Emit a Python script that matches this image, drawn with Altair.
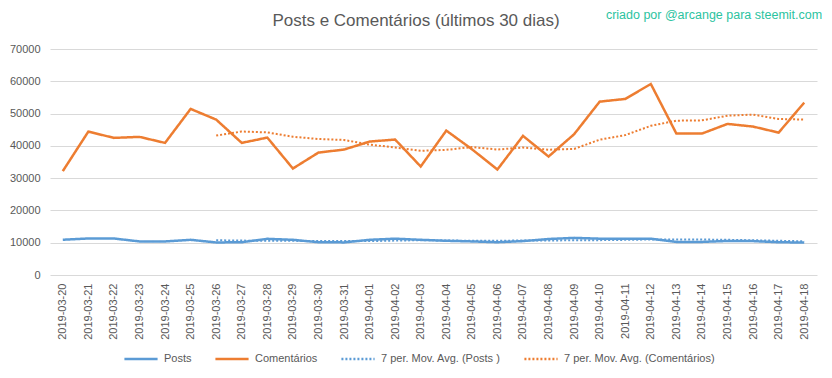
import altair as alt
import pandas as pd

dates = ["2019-03-20", "2019-03-21", "2019-03-22", "2019-03-23", "2019-03-24", "2019-03-25",
         "2019-03-26", "2019-03-27", "2019-03-28", "2019-03-29", "2019-03-30", "2019-03-31",
         "2019-04-01", "2019-04-02", "2019-04-03", "2019-04-04", "2019-04-05", "2019-04-06",
         "2019-04-07", "2019-04-08", "2019-04-09", "2019-04-10", "2019-04-11", "2019-04-12",
         "2019-04-13", "2019-04-14", "2019-04-15", "2019-04-16", "2019-04-17", "2019-04-18"]

posts = [10920, 11320, 11300, 10400, 10400, 10900, 10080, 10150, 11200, 10900,
         10150, 10100, 10900, 11250, 10900, 10600, 10400, 10150, 10500, 11150,
         11500, 11250, 11250, 11250, 10250, 10250, 10550, 10500, 10150, 10050]

comentarios = [32170, 44420, 42470, 42780, 40920, 51440, 48130, 40920, 42560, 32980,
               37920, 38850, 41330, 41950, 33600, 44730, 38970, 32670, 43090, 36690,
               43600, 53700, 54530, 59170, 43800, 43800, 46800, 45970, 44110, 53390]

series_names = ["Posts", "Comentários", "7 per. Mov. Avg. (Posts )", "7 per. Mov. Avg. (Comentários)"]
series_colors = ["#5B9BD5", "#ED7D31", "#5B9BD5", "#ED7D31"]
series_dash = [[1, 0], [1, 0], [2, 2], [2, 2]]
y_ticks = [0, 10000, 20000, 30000, 40000, 50000, 60000, 70000]

title_text = "Posts e Comentários  (últimos 30 dias)"
credit_text = "criado por @arcange para steemit.com"

rows = []
for d, p in zip(dates, posts):
    rows.append({"date": d, "series": "Posts", "value": p})
for d, c in zip(dates, comentarios):
    rows.append({"date": d, "series": "Comentários", "value": c})
df = pd.DataFrame(rows)

FONT = "Liberation Sans"
GREY = "#595959"

x_enc = alt.X("date:N", sort=dates, title=None,
              scale=alt.Scale(type="point", padding=0.5),
              axis=alt.Axis(labelAngle=270, labelFontSize=11, labelColor=GREY, ticks=False,
                            domain=False, labelPadding=8, labelFont=FONT, grid=False))
y_axis = alt.Axis(values=y_ticks, format="d", labelFontSize=11, labelColor=GREY,
                  ticks=False, domain=False, labelPadding=10, labelFont=FONT,
                  grid=True, gridColor="#D9D9D9", gridWidth=1)
y_scale = alt.Scale(domain=[0, 70000], nice=False)

legend = alt.Legend(title=None, orient="none", direction="horizontal",
                    legendX=73, legendY=292, symbolType="stroke",
                    symbolSize=1100, symbolStrokeWidth=2.5,
                    labelFontSize=11, labelColor=GREY, labelFont=FONT,
                    columnPadding=18, labelOffset=5)

lines = alt.Chart(df).mark_line(strokeWidth=2.5).encode(
    x=x_enc,
    y=alt.Y("value:Q", title=None, scale=y_scale, axis=y_axis),
    color=alt.Color("series:N", scale=alt.Scale(domain=series_names, range=series_colors), legend=legend),
    strokeDash=alt.StrokeDash("series:N", scale=alt.Scale(domain=series_names, range=series_dash), legend=legend),
)

ma = alt.Chart(df).transform_window(
    ma="mean(value)", n="count()", frame=[-6, 0], groupby=["series"],
    sort=[alt.SortField("date")]
).transform_filter("datum.n >= 7").transform_calculate(
    label="'7 per. Mov. Avg. (' + (datum.series == 'Posts' ? 'Posts )' : 'Comentários)')"
).mark_line(strokeWidth=2).encode(
    x=x_enc,
    y=alt.Y("ma:Q", title=None, scale=y_scale, axis=y_axis),
    color=alt.Color("label:N", scale=alt.Scale(domain=series_names, range=series_colors), legend=legend),
    strokeDash=alt.StrokeDash("label:N", scale=alt.Scale(domain=series_names, range=series_dash), legend=legend),
)

title_mark = alt.Chart(pd.DataFrame({"t": [title_text]})).mark_text(
    font=FONT, fontSize=17, color=GREY, align="center", baseline="middle"
).encode(text="t:N", x=alt.value(366), y=alt.value(-28))

credit_mark = alt.Chart(pd.DataFrame({"t": [credit_text]})).mark_text(
    font=FONT, fontSize=12.5, color="#2CC3A0", align="center", baseline="middle"
).encode(text="t:N", x=alt.value(664), y=alt.value(-34))

chart = alt.layer(lines, ma, title_mark, credit_mark).properties(
    width=767, height=226,
    autosize=alt.AutoSizeParams(type="none"),
    padding={"left": 42, "top": 41, "right": 7, "bottom": 94},
    background="white",
).configure_view(stroke="transparent")

chart.save("out.html", embed_options={"renderer": "svg", "actions": False})
